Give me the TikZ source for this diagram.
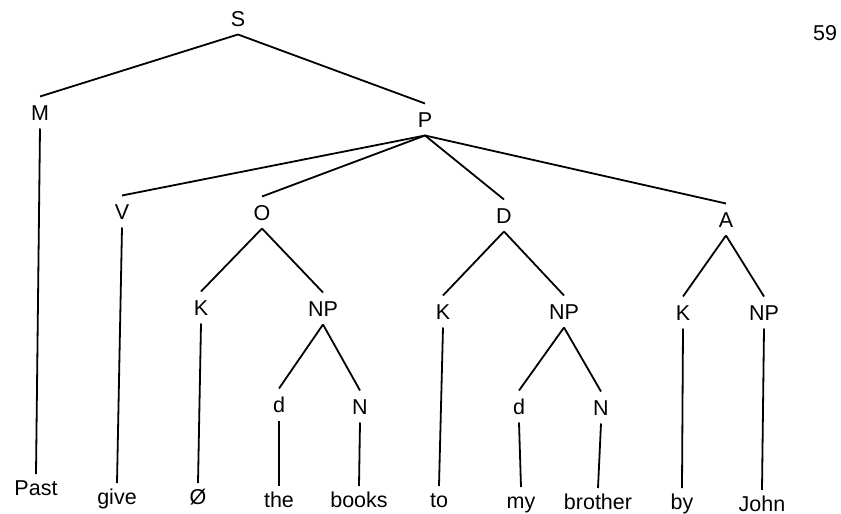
\documentclass[tikz,border=0pt]{standalone}
\usepackage{fontspec}
\setmainfont{Liberation Sans}
\usepackage{tikz}

\begin{document}
\begin{tikzpicture}[x=1pt,y=-1pt,%
% common options for the category labels:
cat/.style = {anchor=base, inner sep=0, outer sep=8.5pt, text height=15pt,
            text depth=0pt, font=\fontsize{21.5}{25}\selectfont},
% common options for the words at the bottom:
word/.style = {cat, outer sep=6pt},
every path/.style = {line width=1.8pt}]
\useasboundingbox (0,0) rectangle (841,514);
\node[cat] (S) at (238,26) {S};
\node[cat] (M) at (40,120) {M};
\node[cat] (P) at (425,127) {P};
\node[cat] (V) at (122,219) {V};
\node[cat] (O) at (262,220) {O};
\node[cat] (D) at (504,223) {D};
\node[cat] (A) at (726,227) {A};
\node[cat] (K1) at (201,315) {K};
\node[cat] (NP1) at (323,316) {NP};
\node[cat] (K2) at (443,319) {K};
\node[cat] (NP2) at (564,319) {NP};
\node[cat] (K3) at (683,320) {K};
\node[cat] (NP3) at (764,320) {NP};
\node[cat] (d1) at (279,412) {d};
\node[cat] (N1) at (360,414) {N};
\node[cat] (d2) at (519,414) {d};
\node[cat] (N2) at (601,415) {N};
\node[word] (W0) at (36,495) {Past};
\node[word] (W1) at (117,504) {give};
\node[word] (W2) at (198,504) {Ø};
\node[word] (W3) at (279,507) {the};
\node[word] (W4) at (359,507) {books};
\node[word] (W5) at (439,507) {to};
\node[word] (W6) at (521,508) {my};
\node[word] (W7) at (598,509) {brother};
\node[word] (W8) at (682,509) {by};
\node[word] (W9) at (762,511) {John};
\node[cat] (page) at (825,40) {59};
\draw[-] (S.south) to (M.north);
\draw[-] (S.south) to (P.north);
\draw[-] (M.south) to (W0.north);
\draw[-] (P.south) to (V.north);
\draw[-] (P.south) to (O.north);
\draw[-] (P.south) to (D.north);
\draw[-] (P.south) to (A.north);
\draw[-] (V.south) to (W1.north);
\draw[-] (O.south) to (K1.north);
\draw[-] (O.south) to (NP1.north);
\draw[-] (K1.south) to (W2.north);
\draw[-] (NP1.south) to (d1.north);
\draw[-] (NP1.south) to (N1.north);
\draw[-] (d1.south) to (W3.north);
\draw[-] (N1.south) to (W4.north);
\draw[-] (D.south) to (K2.north);
\draw[-] (D.south) to (NP2.north);
\draw[-] (K2.south) to (W5.north);
\draw[-] (NP2.south) to (d2.north);
\draw[-] (NP2.south) to (N2.north);
\draw[-] (d2.south) to (W6.north);
\draw[-] (N2.south) to (W7.north);
\draw[-] (A.south) to (K3.north);
\draw[-] (A.south) to (NP3.north);
\draw[-] (K3.south) to (W8.north);
\draw[-] (NP3.south) to (W9.north);
\end{tikzpicture}
\end{document}
